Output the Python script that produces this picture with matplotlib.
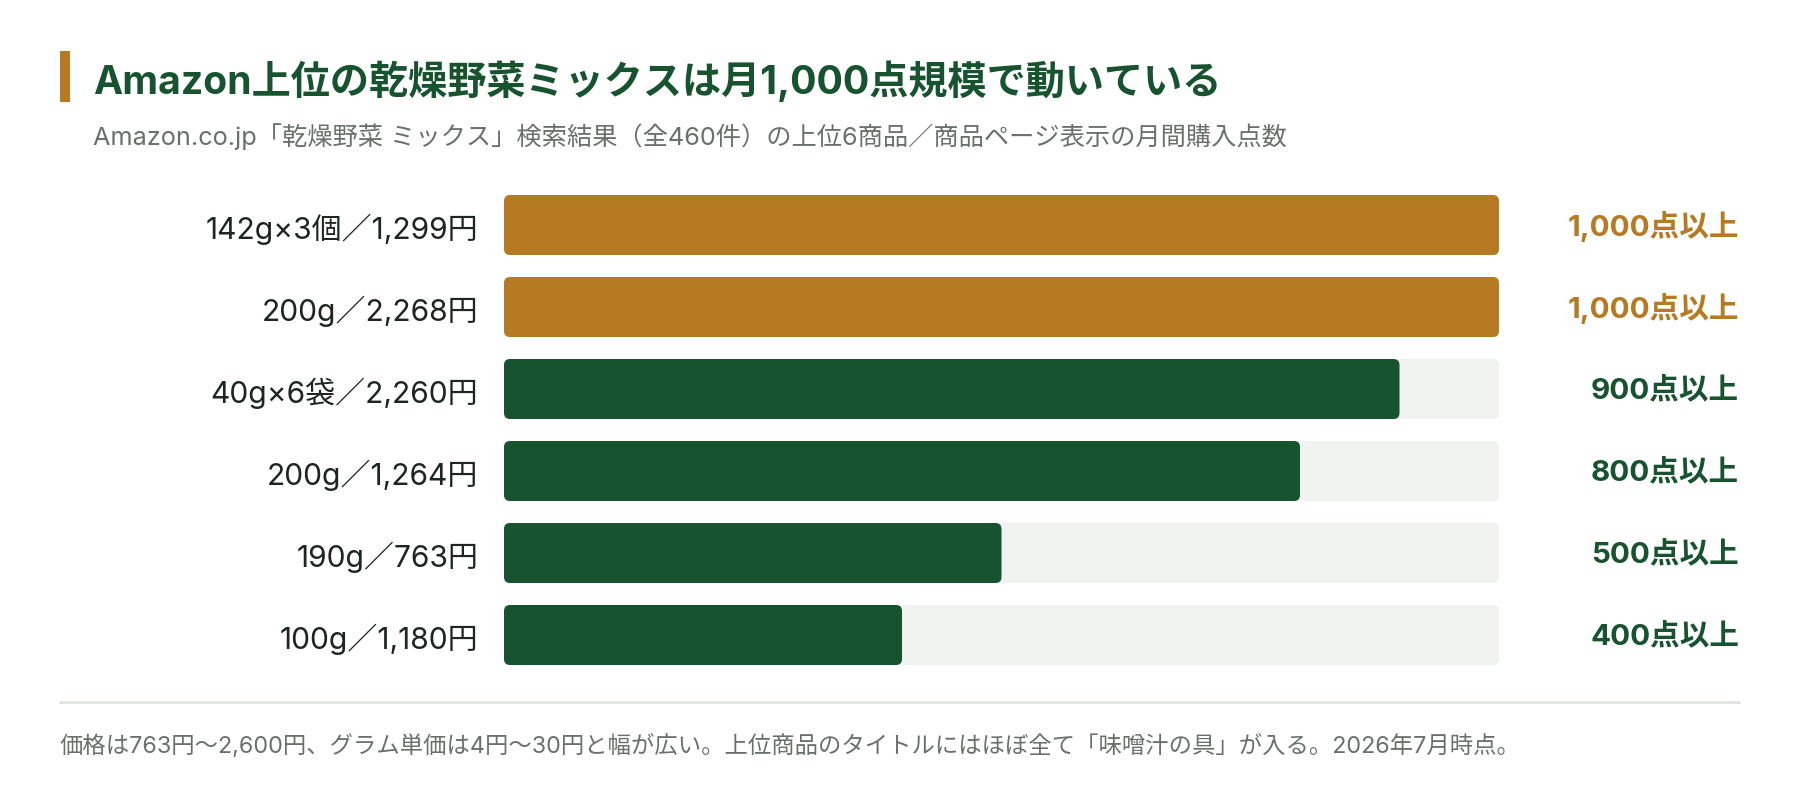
import matplotlib
matplotlib.use("Agg")
import matplotlib.pyplot as plt
from matplotlib.patches import FancyBboxPatch, Rectangle
from matplotlib.lines import Line2D
import matplotlib.transforms as mtransforms

plt.rcParams['font.family'] = ['Inter', 'Noto Sans CJK JP', 'DejaVu Sans']

# data
labels = ['142g×3個／1,299円', '200g／2,268円', '40g×6袋／2,260円',
          '200g／1,264円', '190g／763円', '100g／1,180円']
values = [1000, 1000, 900, 800, 500, 400]
value_texts = ['1,000点以上', '1,000点以上', '900点以上', '800点以上', '500点以上', '400点以上']
scale_max = 1000

title = 'Amazon上位の乾燥野菜ミックスは月1,000点規模で動いている'
subtitle = 'Amazon.co.jp「乾燥野菜 ミックス」検索結果（全460件）の上位6商品／商品ページ表示の月間購入点数'
note = '価格は763円〜2,600円、グラム単価は4円〜30円と幅が広い。上位商品のタイトルにはほぼ全て「味噌汁の具」が入る。2026年7月時点。'

GOLD = '#b57a22'
GREEN = '#16532e'
TRACK = '#f1f3f0'
TEXT = '#1f2622'
GREY = '#6b706c'

W, H = 1800, 812
fig = plt.figure(figsize=(W / 100, H / 100), dpi=100)
fig.patch.set_facecolor('white')

def fx(px):
    return px / W

def fy(py):
    return 1 - py / H

# bar area: x 504..1499, y 196..666 (pixels from top)
left, right, top, bottom = 504, 1499, 196, 666
ax = fig.add_axes([fx(left), fy(bottom), fx(right - left), (bottom - top) / H])
ax.set_facecolor('none')

n = len(values)
bh = 60 / 82
ax.set_xlim(0, scale_max)
ax.set_ylim(n - 1 + bh / 2, -bh / 2)
for s in ax.spines.values():
    s.set_visible(False)
ax.tick_params(axis='both', length=0)
ax.set_xticks([])
ax.set_yticks(range(n))
ax.set_yticklabels(labels, fontsize=21.6, color=TEXT)
ax.tick_params(axis='y', pad=18.5)

# aspect for rounded corners (y data units per x data unit in pixels)
x_per_px = scale_max / (right - left)
y_per_px = (n - 1 + bh) / (bottom - top)
aspect = y_per_px / x_per_px
rad = 6 * x_per_px

tracks = ax.barh(range(n), [scale_max] * n, height=bh, color=TRACK)
colors = [GOLD if v == scale_max else GREEN for v in values]
bars = ax.barh(range(n), values, height=bh, color=colors)

for group, z in ((tracks, 1), (bars, 2)):
    for p in group:
        x0, y0, w, h = p.get_x(), p.get_y(), p.get_width(), p.get_height()
        fc = p.get_facecolor()
        p.remove()
        ax.add_patch(FancyBboxPatch((x0, y0), w, h,
                                    boxstyle=f'round,pad=0,rounding_size={rad}',
                                    mutation_aspect=aspect, fc=fc, ec='none', zorder=z))

trans = mtransforms.blended_transform_factory(ax.transAxes, ax.transData)
for i, (t, c) in enumerate(zip(value_texts, colors)):
    ax.text((1739 - left) / (right - left), i, t, transform=trans, ha='right', va='center',
            fontsize=21.3, fontweight='bold', color=c)

# header
fig.patches.append(Rectangle((fx(60), fy(103)), fx(10), (103 - 52) / H,
                             transform=fig.transFigure, fc=GOLD, ec='none'))
fig.text(fx(93), fy(94), title, fontsize=28.2, fontweight='bold', color=GREEN, va='baseline')
fig.text(fx(93), fy(145), subtitle, fontsize=18.2, color=GREY, va='baseline')

# separator and note
fig.lines.append(Line2D([fx(60), fx(1739)], [fy(703), fy(703)], transform=fig.transFigure,
                        color='#e0e4df', lw=2))
fig.text(fx(60), fy(753), note, fontsize=16.8, color=GREY, va='baseline')

fig.savefig('out.png', dpi=100, facecolor='white')
